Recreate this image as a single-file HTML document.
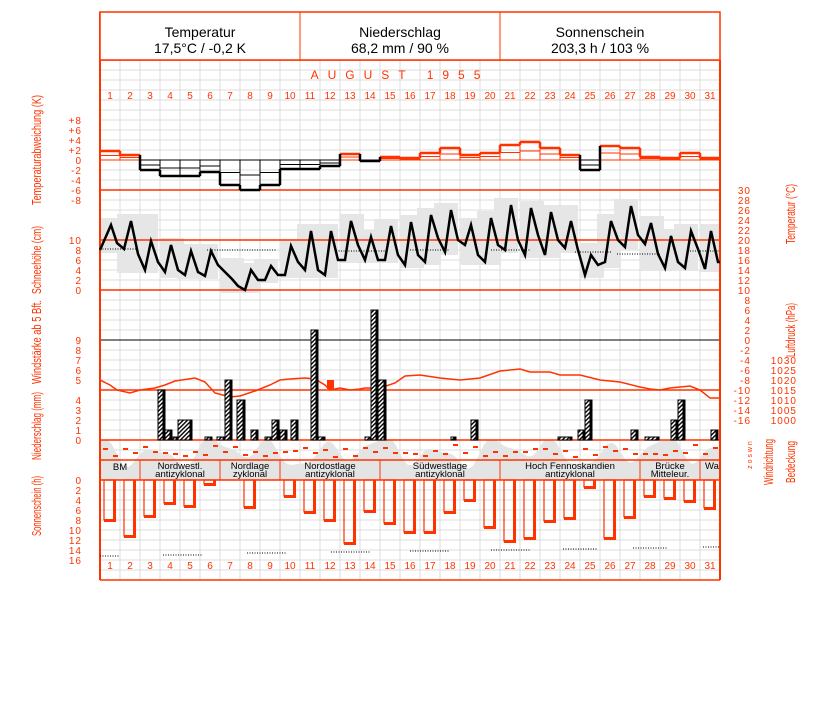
<!DOCTYPE html>
<html><head><meta charset="utf-8"><style>
body{margin:0;background:#fff;width:827px;height:702px;overflow:hidden}
svg{display:block}
text{font-family:"Liberation Sans",sans-serif}
.r{fill:#ff3300;font-size:10px}
.ax{fill:#ff3300;font-size:10px;text-anchor:end;letter-spacing:1px}
.lab{fill:#ff3300;font-size:13px;text-anchor:middle}
.wb{font-size:9.5px;text-anchor:middle;fill:#000}
.hd{font-size:14px;text-anchor:middle;fill:#000}
</style></head><body>
<svg id="s" width="827" height="702" viewBox="0 0 827 702" xmlns="http://www.w3.org/2000/svg">
<defs><pattern id="h" width="3" height="3" patternUnits="userSpaceOnUse" patternTransform="rotate(45)"><rect width="3" height="3" fill="#fff"/><rect width="1.4" height="3" fill="#000"/></pattern></defs>
<g id="grid"></g>
<g id="shapes"></g>
<rect x="100" y="12" width="620" height="48" fill="#fff" stroke="#ff3300" stroke-width="1.5"/>
<line x1="300" y1="12" x2="300" y2="60" stroke="#ff3300"/>
<line x1="500" y1="12" x2="500" y2="60" stroke="#ff3300"/>
<text class="hd" x="200" y="37">Temperatur</text><text class="hd" x="200" y="53">17,5°C / -0,2 K</text>
<text class="hd" x="400" y="37">Niederschlag</text><text class="hd" x="400" y="53">68,2 mm / 90 %</text>
<text class="hd" x="600" y="37">Sonnenschein</text><text class="hd" x="600" y="53">203,3 h / 103 %</text>
<text x="400" y="79" fill="#ff3300" font-size="12" text-anchor="middle" letter-spacing="9">AUGUST  1955</text>
<g class="ax">
<text x="82" y="124">+8</text><text x="82" y="134">+6</text><text x="82" y="144">+4</text><text x="82" y="154">+2</text><text x="82" y="164">0</text><text x="82" y="174">-2</text><text x="82" y="184">-4</text><text x="82" y="194">-6</text><text x="82" y="204">-8</text>
<text x="82" y="244">10</text><text x="82" y="254">8</text><text x="82" y="264">6</text><text x="82" y="274">4</text><text x="82" y="284">2</text><text x="82" y="294">0</text>
<text x="82" y="344">9</text><text x="82" y="354">8</text><text x="82" y="364">7</text><text x="82" y="374">6</text><text x="82" y="384">5</text>
<text x="82" y="404">4</text><text x="82" y="414">3</text><text x="82" y="424">2</text><text x="82" y="434">1</text><text x="82" y="444">0</text>
<text x="82" y="484">0</text><text x="82" y="494">2</text><text x="82" y="504">4</text><text x="82" y="514">6</text><text x="82" y="524">8</text><text x="82" y="534">10</text><text x="82" y="544">12</text><text x="82" y="554">14</text><text x="82" y="564">16</text>
</g>
<g class="ax">
<text x="751" y="194">30</text><text x="751" y="204">28</text><text x="751" y="214">26</text><text x="751" y="224">24</text><text x="751" y="234">22</text><text x="751" y="244">20</text><text x="751" y="254">18</text><text x="751" y="264">16</text><text x="751" y="274">14</text><text x="751" y="284">12</text><text x="751" y="294">10</text><text x="751" y="304">8</text><text x="751" y="314">6</text><text x="751" y="324">4</text><text x="751" y="334">2</text><text x="751" y="344">0</text><text x="751" y="354">-2</text><text x="751" y="364">-4</text><text x="751" y="374">-6</text><text x="751" y="384">-8</text><text x="751" y="394">-10</text><text x="751" y="404">-12</text><text x="751" y="414">-14</text><text x="751" y="424">-16</text>
<text x="797" y="364">1030</text><text x="797" y="374">1025</text><text x="797" y="384">1020</text><text x="797" y="394">1015</text><text x="797" y="404">1010</text><text x="797" y="414">1005</text><text x="797" y="424">1000</text>
</g>
<g class="lab">
<text transform="translate(41,150) rotate(-90)" textLength="110" lengthAdjust="spacingAndGlyphs">Temperaturabweichung (K)</text>
<text transform="translate(41,260) rotate(-90)" textLength="68" lengthAdjust="spacingAndGlyphs">Schneehöhe (cm)</text>
<text transform="translate(41,342) rotate(-90)" textLength="84" lengthAdjust="spacingAndGlyphs">Windstärke ab 5 Bft.</text>
<text transform="translate(41,426) rotate(-90)" textLength="68" lengthAdjust="spacingAndGlyphs">Niederschlag (mm)</text>
<text transform="translate(41,506) rotate(-90)" textLength="60" lengthAdjust="spacingAndGlyphs">Sonnenschein (h)</text>
<text transform="translate(795,214) rotate(-90)" textLength="60" lengthAdjust="spacingAndGlyphs">Temperatur (°C)</text>
<text transform="translate(795,330) rotate(-90)" textLength="54" lengthAdjust="spacingAndGlyphs">Luftdruck (hPa)</text>
<text transform="translate(773,462) rotate(-90)" textLength="46" lengthAdjust="spacingAndGlyphs">Windrichtung</text>
<text transform="translate(795,462) rotate(-90)" textLength="42" lengthAdjust="spacingAndGlyphs">Bedeckung</text>
<text transform="translate(752,455) rotate(-90)" font-size="7">z o s w n</text>
</g>
<g class="wb">
<text x="120" y="470">BM</text>
<text x="180" y="469">Nordwestl.</text><text x="180" y="477">antizyklonal</text>
<text x="250" y="469">Nordlage</text><text x="250" y="477">zyklonal</text>
<text x="330" y="469">Nordostlage</text><text x="330" y="477">antizyklonal</text>
<text x="440" y="469">Südwestlage</text><text x="440" y="477">antizyklonal</text>
<text x="570" y="469">Hoch Fennoskandien</text><text x="570" y="477">antizyklonal</text>
<text x="670" y="469">Brücke</text><text x="670" y="477">Mitteleur.</text>
<text x="712" y="469">Wa</text>
</g>
<g class="r" font-size="8" text-anchor="middle">
<text x="110" y="99">1</text><text x="130" y="99">2</text><text x="150" y="99">3</text><text x="170" y="99">4</text><text x="190" y="99">5</text><text x="210" y="99">6</text><text x="230" y="99">7</text><text x="250" y="99">8</text><text x="270" y="99">9</text><text x="290" y="99">10</text><text x="310" y="99">11</text><text x="330" y="99">12</text><text x="350" y="99">13</text><text x="370" y="99">14</text><text x="390" y="99">15</text><text x="410" y="99">16</text><text x="430" y="99">17</text><text x="450" y="99">18</text><text x="470" y="99">19</text><text x="490" y="99">20</text><text x="510" y="99">21</text><text x="530" y="99">22</text><text x="550" y="99">23</text><text x="570" y="99">24</text><text x="590" y="99">25</text><text x="610" y="99">26</text><text x="630" y="99">27</text><text x="650" y="99">28</text><text x="670" y="99">29</text><text x="690" y="99">30</text><text x="710" y="99">31</text>
<text x="110" y="569">1</text><text x="130" y="569">2</text><text x="150" y="569">3</text><text x="170" y="569">4</text><text x="190" y="569">5</text><text x="210" y="569">6</text><text x="230" y="569">7</text><text x="250" y="569">8</text><text x="270" y="569">9</text><text x="290" y="569">10</text><text x="310" y="569">11</text><text x="330" y="569">12</text><text x="350" y="569">13</text><text x="370" y="569">14</text><text x="390" y="569">15</text><text x="410" y="569">16</text><text x="430" y="569">17</text><text x="450" y="569">18</text><text x="470" y="569">19</text><text x="490" y="569">20</text><text x="510" y="569">21</text><text x="530" y="569">22</text><text x="550" y="569">23</text><text x="570" y="569">24</text><text x="590" y="569">25</text><text x="610" y="569">26</text><text x="630" y="569">27</text><text x="650" y="569">28</text><text x="670" y="569">29</text><text x="690" y="569">30</text><text x="710" y="569">31</text>
</g>
</svg>
<script>
var NS="http://www.w3.org/2000/svg";
function el(g,t,a){var e=document.createElementNS(NS,t);for(var k in a)e.setAttribute(k,a[k]);document.getElementById(g).appendChild(e);return e;}
for(var y=60;y<=580;y+=10)el("grid","line",{x1:100,y1:y,x2:720,y2:y,stroke:"#dcdcdc"});
for(var x=100;x<=720;x+=20)el("grid","line",{x1:x,y1:60,x2:x,y2:580,stroke:"#dcdcdc"});
var S="shapes";
var T=[[100,250],[111,225],[117,243],[124,249],[131,221],[138,254],[145,270],[151,241],[158,262],[165,272],[171,245],[178,270],[185,275],[191,251],[198,272],[205,276],[211,251],[218,265],[225,272],[232,279],[238,286],[245,290],[251,270],[258,280],[265,280],[271,266],[278,275],[285,275],[291,246],[298,262],[305,270],[311,231],[318,270],[325,275],[331,231],[338,260],[345,260],[351,221],[358,245],[365,260],[371,237],[378,260],[385,260],[391,226],[398,255],[405,265],[411,222],[418,255],[425,262],[431,215],[438,238],[445,252],[451,210],[458,240],[465,245],[471,225],[478,255],[485,262],[491,218],[498,245],[505,250],[511,205],[518,240],[525,255],[531,208],[538,235],[545,255],[551,212],[558,240],[565,248],[571,221],[578,250],[585,275],[591,255],[598,265],[605,262],[611,221],[618,240],[625,247],[631,206],[638,235],[645,244],[651,223],[658,254],[665,268],[671,236],[678,262],[685,268],[691,231],[698,249],[705,269],[711,231],[718,262],[720,262]];
for(var d=0;d<31;d++){var x0=100+d*20-(d%3)*3,x1=x0+24,mn=999,mx=0;T.forEach(function(p){if(p[0]>=x0-4&&p[0]<=x1+4){mn=Math.min(mn,p[1]);mx=Math.max(mx,p[1]);}});
el(S,"rect",{x:Math.max(100,x0),y:mn-7,width:Math.min(720,x1)-Math.max(100,x0),height:mx-mn+10,fill:"#e6e6e6"});}
var c="100,480 100,468 ";for(var x=100;x<=720;x+=4){var v=452+10*Math.sin(x/9)+6*Math.sin(x/23+1)+4*Math.cos(x/5);c+=x+","+Math.min(480,Math.max(440,v))+" ";}
c+="720,480";el(S,"polygon",{points:c,fill:"#e4e4e4"});
[60,190,240,290,390,440,460,480,580].forEach(function(y){el(S,"line",{x1:100,y1:y,x2:720,y2:y,stroke:"#ff3300","stroke-width":1.5});});
el(S,"line",{x1:100,y1:340,x2:720,y2:340,stroke:"#000"});
[140,220,280,380,500,640,700].forEach(function(x){el(S,"line",{x1:x,y1:460,x2:x,y2:480,stroke:"#ff3300"});});
el(S,"line",{x1:100,y1:12,x2:100,y2:580,stroke:"#ff3300","stroke-width":2});
el(S,"line",{x1:720,y1:60,x2:720,y2:580,stroke:"#ff3300","stroke-width":2});
el(S,"polyline",{points:T.map(function(p){return p.join(",")}).join(" "),fill:"none",stroke:"#000","stroke-width":2.5});
[[100,137,249],[207,276,250],[336,385,251],[410,450,250],[491,530,250],[575,611,252],[617,660,254],[690,720,251]].forEach(function(a){el(S,"line",{x1:a[0],y1:a[2],x2:a[1],y2:a[2],stroke:"#000","stroke-dasharray":"1,1.5"});});
var D=[151,155,170,176,176,172,185,190,185,169,169,166,154,161,157,158,153,148,155,153,145,142,148,155,170,146,148,157,158,153,158];
D.forEach(function(y,i){var x=100+i*20;var col=y<160?"#ff3300":"#000";el(S,"rect",{x:x,y:Math.min(y,160),width:20,height:Math.abs(y-160),fill:"none",stroke:col,"stroke-width":1});
var mid=(y+160)/2;el(S,"line",{x1:x,y1:mid,x2:x+20,y2:mid,stroke:col});
el(S,"line",{x1:x,y1:y,x2:x+20,y2:y,stroke:col,"stroke-width":2.5});
if(i>0){var p=D[i-1];el(S,"line",{x1:x,y1:p,x2:x,y2:y,stroke:(y<160&&p<=160)?"#ff3300":"#000","stroke-width":2.5});}});
var P=[[100,380],[110,385],[117,390],[130,393],[140,390],[155,388],[165,385],[175,381],[195,378],[205,382],[215,393],[230,397],[240,396],[255,391],[270,385],[280,380],[290,379],[305,378],[315,379],[325,385],[330,390],[340,388],[350,390],[360,389],[365,388],[380,388],[395,383],[405,376],[420,375],[440,378],[460,380],[480,378],[500,371],[510,370],[520,369],[530,372],[550,372],[560,375],[580,375],[600,380],[620,382],[640,387],[650,389],[660,390],[670,388],[690,386],[700,390],[710,398],[720,398]];
el(S,"polyline",{points:P.map(function(p){return p.join(",")}).join(" "),fill:"none",stroke:"#ff3300","stroke-width":1.5});
el(S,"rect",{x:327,y:380,width:7,height:9,fill:"#ff3300"});
[[158,7,390],[165,7,430],[172,6,437],[178,14,420],[205,7,437],[217,8,437],[225,7,380],[237,8,400],[251,7,430],[265,7,437],[272,7,420],[280,7,430],[291,7,420],[311,7,330],[318,7,437],[365,7,437],[371,7,310],[378,8,380],[451,5,437],[471,7,420],[558,14,437],[578,7,430],[585,7,400],[631,7,430],[645,14,437],[671,7,420],[678,7,400],[711,7,430]].forEach(function(b){
el(S,"rect",{x:b[0],y:b[2],width:b[1],height:440-b[2],fill:"url(#h)",stroke:"#000","stroke-width":1});
el(S,"rect",{x:b[0]+b[1]-2.5,y:b[2],width:2.5,height:440-b[2],fill:"#000"});});
for(var i=0;i<62;i++){var x=103+i*10,y=442+Math.round(8*Math.abs(Math.sin(i*1.7))+6*Math.abs(Math.cos(i*0.4)))%17;el(S,"rect",{x:x,y:y,width:5,height:2,fill:"#ff3300"});}
var Sn=[520,536,516,503,506,484,480,507,480,496,512,520,543,511,523,532,532,512,500,527,541,538,521,518,487,538,517,496,498,501,508];
Sn.forEach(function(y,i){if(y<=480)return;var x=100+i*20+4;el(S,"rect",{x:x,y:480,width:11,height:y-480,fill:"none",stroke:"#ff3300","stroke-width":1.2});
el(S,"rect",{x:x+9,y:480,width:3,height:y-480,fill:"#ff3300"});el(S,"rect",{x:x,y:y-1,width:12,height:3,fill:"#ff3300"});});
[[100,120,556],[163,203,555],[247,287,553],[331,370,552],[410,450,551],[491,530,550],[563,598,549],[633,667,548],[703,720,547]].forEach(function(a){el(S,"line",{x1:a[0],y1:a[2],x2:a[1],y2:a[2],stroke:"#000","stroke-dasharray":"1,1.5"});});
</script>
</body></html>
